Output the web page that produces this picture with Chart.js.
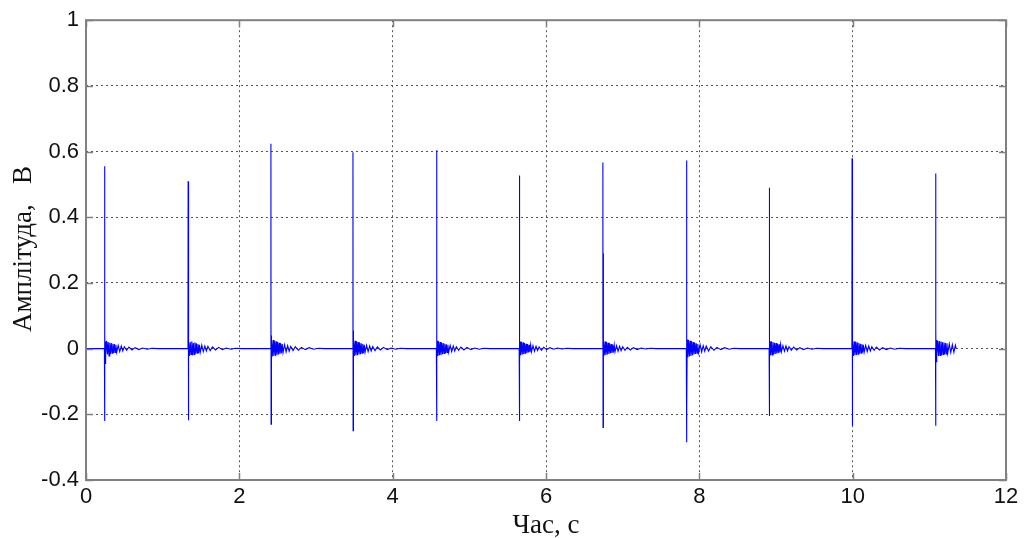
<!DOCTYPE html>
<html>
<head>
<meta charset="utf-8">
<script src="https://cdn.jsdelivr.net/npm/chart.js@4"></script>
<style>
  body { margin: 0; background: #fff; }
  canvas { display: block; }
</style>
</head>
<body>
<canvas id="myChart" width="1024" height="538"></canvas>
<script>
'use strict';
// =============== data ===============
const xTitle = 'Час, с';
const yTitle = 'Амплітуда,   В';

// time of each spike, s
const spikeTimes = [0.24, 1.33, 2.41, 3.48, 4.57, 5.65, 6.74, 7.83, 8.91, 9.99, 11.08];
const signalEnd = 11.35;

// time after each spike, s
const ringT = [0, 0.002, 0.004, 0.006, 0.008, 0.012, 0.02, 0.03, 0.04, 0.05, 0.06, 0.07, 0.08, 0.09, 0.1, 0.11, 0.12,
    0.13, 0.14, 0.15, 0.16, 0.18, 0.2, 0.22, 0.24, 0.26, 0.29, 0.32, 0.36, 0.4, 0.45, 0.5, 0.56, 0.62, 0.7];

// amplitude after each spike, V
const ring1 = [0, 0.555, -0.22, 0.045, -0.045, 0.022, -0.02, 0.024, -0.018, 0.02, -0.022, 0.018, -0.016, 0.017, -0.014, 0.015, -0.013,
    0.014, -0.012, 0.012, -0.011, 0.01, -0.009, 0.008, -0.007, 0.006, -0.005, 0.005, -0.004, 0.003, -0.003, 0.002, -0.002, 0.001, 0];
const ring2 = [0, 0.51, -0.218, 0.26, -0.03, 0.024, -0.022, 0.02, -0.018, 0.022, -0.02, 0.017, -0.018, 0.019, -0.015, 0.016, -0.014,
    0.014, -0.013, 0.012, -0.011, 0.011, -0.009, 0.008, -0.007, 0.007, -0.006, 0.005, -0.004, 0.004, -0.003, 0.002, -0.002, 0.001, 0];
const ring3 = [0, 0.624, -0.23, 0.04, -0.12, 0.027, -0.024, 0.026, -0.022, 0.024, -0.022, 0.022, -0.02, 0.02, -0.018, 0.018, -0.016,
    0.016, -0.014, 0.014, -0.012, 0.012, -0.01, 0.009, -0.008, 0.007, -0.006, 0.006, -0.005, 0.004, -0.003, 0.003, -0.002, 0.001, 0];
const ring4 = [0, 0.598, -0.25, 0.055, -0.04, 0.026, -0.022, 0.024, -0.02, 0.022, -0.02, 0.02, -0.018, 0.018, -0.017, 0.016, -0.014,
    0.014, -0.013, 0.012, -0.011, 0.01, -0.009, 0.008, -0.007, 0.006, -0.006, 0.005, -0.004, 0.004, -0.003, 0.002, -0.002, 0.001, 0];
const ring5 = [0, 0.604, -0.22, 0.05, -0.035, 0.024, -0.022, 0.022, -0.02, 0.02, -0.019, 0.018, -0.017, 0.017, -0.015, 0.015, -0.014,
    0.013, -0.012, 0.012, -0.011, 0.01, -0.009, 0.008, -0.007, 0.006, -0.005, 0.005, -0.004, 0.004, -0.003, 0.002, -0.002, 0.001, 0];
const ring6 = [0, 0.527, -0.22, 0.14, -0.04, 0.022, -0.02, 0.021, -0.018, 0.019, -0.017, 0.017, -0.016, 0.015, -0.014, 0.014, -0.012,
    0.012, -0.011, 0.011, -0.01, 0.009, -0.008, 0.007, -0.006, 0.005, -0.005, 0.004, -0.003, 0.003, -0.002, 0.002, -0.001, 0.001, 0];
const ring7 = [0, 0.567, -0.24, 0.29, -0.03, 0.022, -0.021, 0.022, -0.019, 0.02, -0.018, 0.018, -0.016, 0.016, -0.014, 0.014, -0.013,
    0.012, -0.012, 0.011, -0.01, 0.009, -0.008, 0.007, -0.006, 0.006, -0.005, 0.004, -0.004, 0.003, -0.003, 0.002, -0.001, 0.001, 0];
const ring8 = [0, 0.573, -0.285, 0.065, -0.19, 0.028, -0.026, 0.026, -0.024, 0.024, -0.022, 0.022, -0.02, 0.02, -0.018, 0.018, -0.016,
    0.016, -0.014, 0.014, -0.012, 0.012, -0.01, 0.009, -0.008, 0.008, -0.007, 0.006, -0.005, 0.004, -0.003, 0.003, -0.002, 0.001, 0];
const ring9 = [0, 0.49, -0.205, 0.04, -0.035, 0.022, -0.02, 0.022, -0.019, 0.02, -0.018, 0.018, -0.016, 0.017, -0.015, 0.015, -0.013,
    0.013, -0.012, 0.012, -0.01, 0.009, -0.008, 0.008, -0.007, 0.006, -0.005, 0.005, -0.004, 0.003, -0.003, 0.002, -0.002, 0.001, 0];
const ring10 = [0, 0.58, -0.235, 0.045, -0.12, 0.024, -0.022, 0.022, -0.02, 0.021, -0.019, 0.019, -0.017, 0.017, -0.015, 0.015, -0.014,
    0.014, -0.012, 0.012, -0.011, 0.01, -0.009, 0.008, -0.007, 0.006, -0.005, 0.005, -0.004, 0.003, -0.003, 0.002, -0.002, 0.001, 0];
const ring11 = [0, 0.533, -0.235, 0.06, -0.04, 0.026, -0.024, 0.024, -0.022, 0.023, -0.021, 0.022, -0.02, 0.02, -0.018, 0.019, -0.017,
    0.017, -0.016, 0.016, -0.014, 0.014, -0.012, 0.012, -0.011, 0.01];
const rings = [ring1, ring2, ring3, ring4, ring5, ring6, ring7, ring8, ring9, ring10, ring11];

// =============== build points ===============
const points = [{x: 0, y: 0}];
spikeTimes.forEach((t0, i) => {
    rings[i].forEach((v, j) => {
        points.push({x: t0 + ringT[j], y: v});
    });
});
if (points[points.length - 1].x < signalEnd) points.push({x: signalEnd, y: 0});

// =============== frame, inner ticks, titles ===============
const frame = {
    id: 'frame',
    afterDraw(chart) {
        const {ctx, chartArea: a, scales} = chart;
        ctx.save();
        ctx.strokeStyle = '#808080';
        ctx.lineWidth = 2;
        ctx.strokeRect(a.left, a.top, a.right - a.left, a.bottom - a.top);
        ctx.lineWidth = 1.5;
        ctx.beginPath();
        scales.x.ticks.forEach(tk => {
            const px = Math.round(scales.x.getPixelForValue(tk.value)) + 0.5;
            ctx.moveTo(px, a.bottom); ctx.lineTo(px, a.bottom - 7);
            ctx.moveTo(px, a.top); ctx.lineTo(px, a.top + 7);
        });
        scales.y.ticks.forEach(tk => {
            const py = Math.round(scales.y.getPixelForValue(tk.value)) + 0.5;
            ctx.moveTo(a.left, py); ctx.lineTo(a.left + 7, py);
            ctx.moveTo(a.right, py); ctx.lineTo(a.right - 7, py);
        });
        ctx.stroke();

        ctx.fillStyle = '#111';
        ctx.font = '27px "Liberation Serif"';
        ctx.textAlign = 'center';
        ctx.textBaseline = 'alphabetic';
        ctx.fillText(xTitle, (a.left + a.right) / 2, 533);
        ctx.translate(31, 249);
        ctx.rotate(-Math.PI / 2);
        ctx.fillText(yTitle, 0, 0);
        ctx.restore();
    }
};

// =============== chart ===============
const tickFont = {family: '"Liberation Sans"', size: 22};
const fmt = v => (Math.abs(v) < 1e-9 ? '0' : String(+v.toFixed(1)));

new Chart(document.getElementById('myChart'), {
    type: 'line',
    data: {
        datasets: [{
            data: points,
            borderColor: '#0000ff',
            borderWidth: 1.1,
            pointRadius: 0,
            tension: 0
        }]
    },
    options: {
        responsive: false,
        animation: false,
        layout: {padding: {top: 20, right: 18, left: 0, bottom: 0}},
        plugins: {legend: {display: false}, tooltip: {enabled: false}},
        scales: {
            x: {
                type: 'linear',
                min: 0,
                max: 12,
                afterFit: s => { s.height = 58; },
                ticks: {stepSize: 2, padding: 4, color: '#111', font: tickFont, maxRotation: 0, callback: fmt},
                grid: {color: '#555', drawTicks: false},
                border: {display: false, dash: [2, 3]}
            },
            y: {
                min: -0.4,
                max: 1,
                afterFit: s => { s.width = 86; },
                ticks: {stepSize: 0.2, padding: 7, color: '#111', font: tickFont, callback: fmt},
                grid: {color: '#555', drawTicks: false},
                border: {display: false, dash: [2, 3]}
            }
        }
    },
    plugins: [frame]
});
</script>
</body>
</html>
